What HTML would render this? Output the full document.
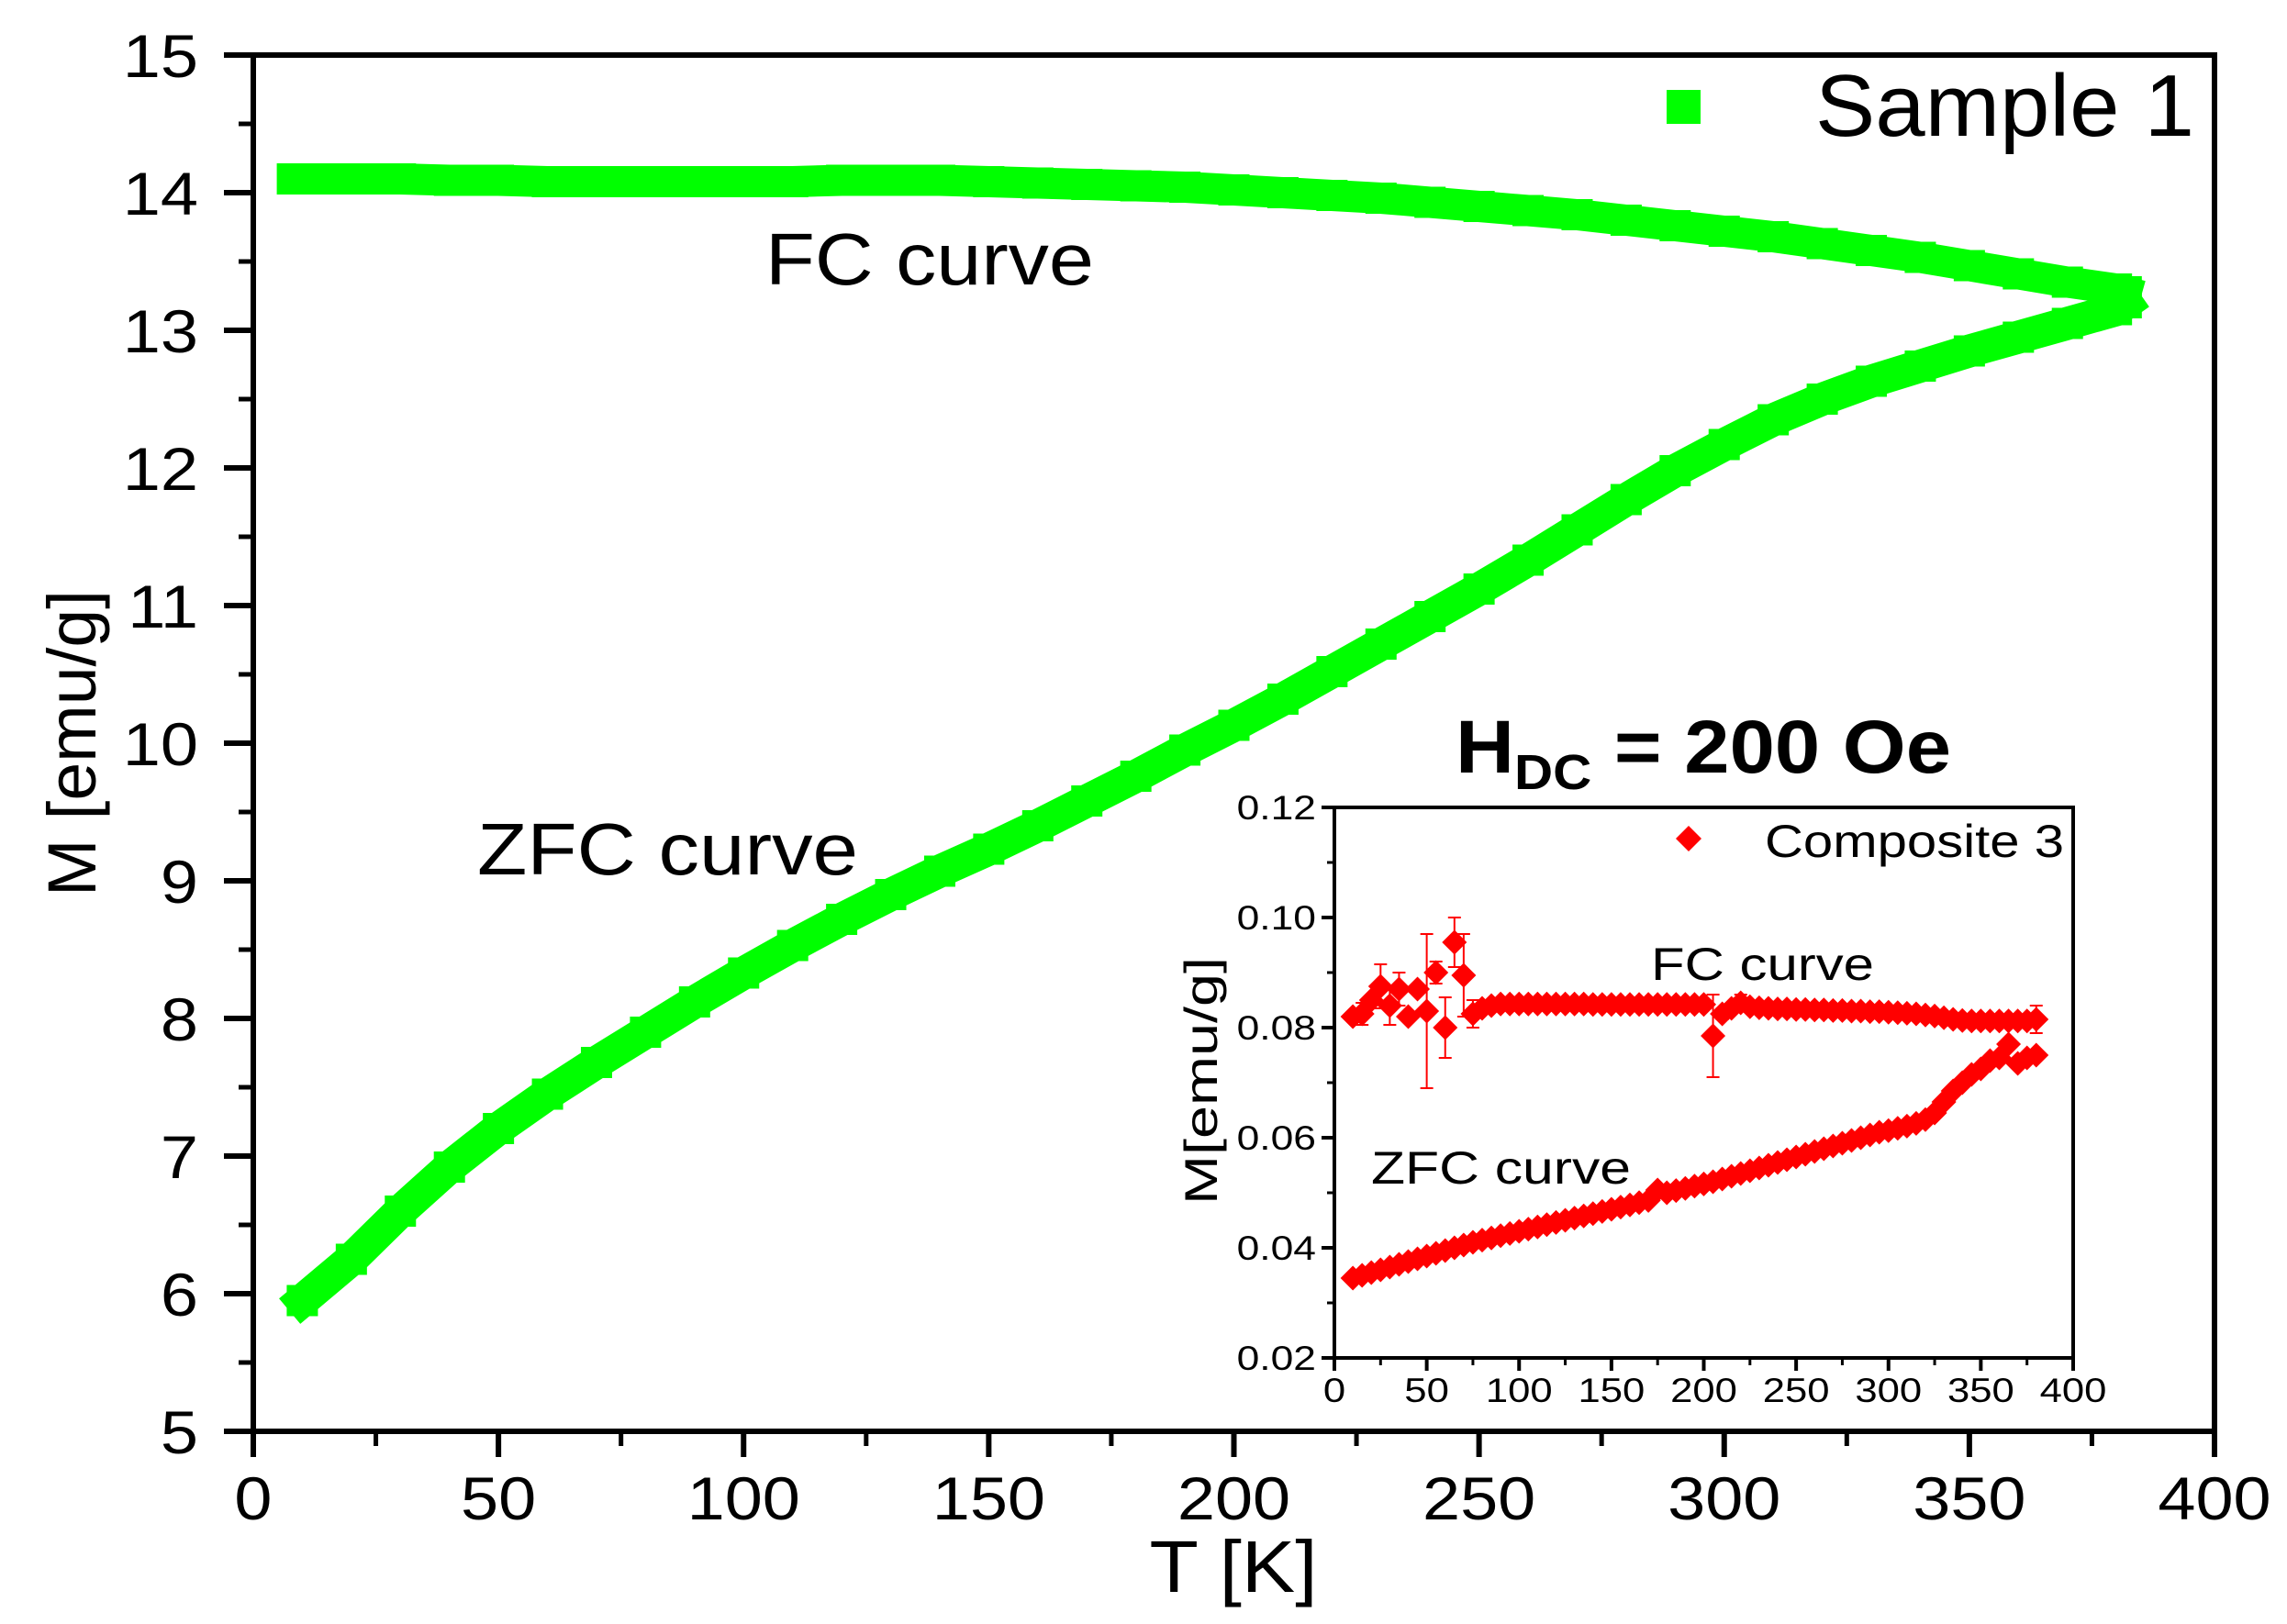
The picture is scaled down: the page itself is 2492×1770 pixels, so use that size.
<!DOCTYPE html>
<html><head><meta charset="utf-8"><style>
html,body{margin:0;padding:0;background:#fff}
svg{display:block}
text{font-family:"Liberation Sans",Arial,sans-serif;fill:#000}
</style></head><body>
<svg id="chart" width="2492" height="1770" viewBox="0 0 2492 1770" xmlns="http://www.w3.org/2000/svg">
<g id="main"></g>
<g id="inset"></g>
</svg>
<script>
// ---- main chart data ----
const mainXTicks = [0, 50, 100, 150, 200, 250, 300, 350, 400];
const mainYTicks = [5, 6, 7, 8, 9, 10, 11, 12, 13, 14, 15];
const fcT = [8, 20, 30, 40, 50, 60, 70, 80, 90, 100, 110, 120, 130, 140, 150, 160, 170, 180, 190, 200, 210, 220, 230, 240, 250, 260, 270, 280, 290, 300, 310, 320, 330, 340, 350, 360, 370, 380, 382];
const fcM = [14.1, 14.1, 14.1, 14.09, 14.09, 14.08, 14.08, 14.08, 14.08, 14.08, 14.08, 14.09, 14.09, 14.09, 14.08, 14.07, 14.06, 14.05, 14.04, 14.02, 14.0, 13.98, 13.96, 13.93, 13.9, 13.87, 13.84, 13.8, 13.76, 13.72, 13.68, 13.63, 13.58, 13.53, 13.47, 13.41, 13.35, 13.3, 13.28];
const zfcT = [10, 20, 30, 40, 50, 60, 70, 80, 90, 100, 110, 120, 130, 140, 150, 160, 170, 180, 190, 200, 210, 220, 230, 240, 250, 260, 270, 280, 290, 300, 310, 320, 330, 340, 350, 360, 370, 380, 382];
const zfcM = [5.95, 6.25, 6.6, 6.92, 7.2, 7.45, 7.68, 7.9, 8.12, 8.33, 8.53, 8.72, 8.9, 9.07, 9.23, 9.4, 9.58, 9.76, 9.95, 10.13, 10.32, 10.52, 10.72, 10.92, 11.12, 11.33, 11.55, 11.77, 11.98, 12.17, 12.35, 12.5, 12.63, 12.74, 12.85, 12.95, 13.05, 13.15, 13.2];

// ---- inset data ----
const inXTicks = [0, 50, 100, 150, 200, 250, 300, 350, 400];
const inYTicks = [0.02, 0.04, 0.06, 0.08, 0.10, 0.12];
const inYLabels = ["0.02", "0.04", "0.06", "0.08", "0.10", "0.12"];
const inFcT = [10,15,20,25,30,35,40,45,50,55,60,65,70,75,80,85,90,95,100,105,110,115,120,125,130,135,140,145,150,155,160,165,170,175,180,185,190,195,200,205,210,215,220,225,230,235,240,245,250,255,260,265,270,275,280,285,290,295,300,305,310,315,320,325,330,335,340,345,350,355,360,365,370,375,380];
const inFcM = [0.082,0.0825,0.085,0.0875,0.084,0.087,0.082,0.087,0.083,0.090,0.080,0.0955,0.0895,0.0825,0.0835,0.084,0.0843,0.0843,0.0843,0.0843,0.0843,0.0843,0.0843,0.0843,0.0843,0.0843,0.0842,0.0842,0.0842,0.0842,0.0842,0.0842,0.0842,0.0842,0.0842,0.0842,0.0842,0.0842,0.0842,0.0785,0.0825,0.0835,0.0845,0.0838,0.0836,0.0835,0.0834,0.0834,0.0833,0.0833,0.0832,0.0832,0.0831,0.0831,0.083,0.083,0.0829,0.0829,0.0828,0.0827,0.0826,0.0825,0.0823,0.0821,0.0818,0.0815,0.0813,0.0812,0.0812,0.0812,0.0812,0.0812,0.0812,0.0812,0.0815];
const inFcErr = [0,0.002,0,0.004,0.0035,0.003,0,0,0.014,0.002,0.0055,0.0045,0.0075,0.0025,0,0,0,0,0,0,0,0,0,0,0,0,0,0,0,0,0,0,0,0,0,0,0,0,0,0.0075,0.001,0,0.0015,0,0,0,0,0,0,0,0,0,0,0,0,0,0,0,0,0,0,0,0,0,0,0,0,0,0,0,0,0,0,0,0.0025];
const inZfcT = inFcT;
const inZfcM = [0.0345,0.0350,0.0355,0.0360,0.0365,0.0370,0.0375,0.0380,0.0385,0.0390,0.0395,0.0400,0.0405,0.0410,0.0414,0.0418,0.0422,0.0426,0.0430,0.0434,0.0438,0.0442,0.0446,0.0450,0.0454,0.0458,0.0462,0.0466,0.0470,0.0474,0.0478,0.0482,0.0486,0.0505,0.0500,0.0504,0.0508,0.0512,0.0516,0.0520,0.0525,0.0530,0.0535,0.0540,0.0545,0.0550,0.0555,0.0560,0.0565,0.0570,0.0575,0.0580,0.0585,0.0590,0.0595,0.0600,0.0605,0.0610,0.0613,0.0617,0.0621,0.0626,0.0633,0.0645,0.0665,0.0685,0.0700,0.0715,0.0725,0.0740,0.0745,0.0770,0.0735,0.0745,0.0750];

const NS = "http://www.w3.org/2000/svg";
function mk(parent, tag, attrs, txt) {
  const e = document.createElementNS(NS, tag);
  for (const k in attrs) e.setAttribute(k, attrs[k]);
  if (txt !== undefined) e.textContent = txt;
  parent.appendChild(e);
  return e;
}
function widen(el, factor) {
  const w = el.getComputedTextLength();
  el.setAttribute('textLength', (w * factor).toFixed(1));
  el.setAttribute('lengthAdjust', 'spacingAndGlyphs');
}

// ---- main axes ----
const M = {x0: 276, x1: 2413, y0: 1560, y1: 60, xmin: 0, xmax: 400, ymin: 5, ymax: 15};
const mx = v => M.x0 + (v - M.xmin) / (M.xmax - M.xmin) * (M.x1 - M.x0);
const my = v => M.y0 - (v - M.ymin) / (M.ymax - M.ymin) * (M.y0 - M.y1);
const main = document.getElementById('main');

function pathFrom(xs, ys, fx, fy) {
  return xs.map((t, i) => (i ? 'L' : 'M') + fx(t).toFixed(1) + ' ' + fy(ys[i]).toFixed(1)).join(' ');
}

const fcLine = mk(main, 'path', {d: pathFrom(fcT, fcM, mx, my), fill: 'none', stroke: '#00ff00', 'stroke-width': 34, 'stroke-linejoin': 'miter', 'stroke-linecap': 'square'});


const zfcLine = mk(main, 'path', {d: pathFrom(zfcT, zfcM, mx, my), fill: 'none', stroke: '#00ff00', 'stroke-width': 36, 'stroke-linejoin': 'miter', 'stroke-linecap': 'square'});


fcT.forEach((t, i) => {
  const r = mk(main, 'rect', {x: mx(t) - 17, y: my(fcM[i]) - 17, width: 34, height: 34, fill: '#00ff00'});
  
  
});
zfcT.forEach((t, i) => {
  const r = mk(main, 'rect', {x: mx(t) - 17, y: my(zfcM[i]) - 17, width: 34, height: 34, fill: '#00ff00'});
  
  
});

const frame = mk(main, 'rect', {x: M.x0, y: M.y1, width: M.x1 - M.x0, height: M.y0 - M.y1, fill: 'none', stroke: '#000', 'stroke-width': 6});



mainXTicks.forEach((v, i) => {
  const x = mx(v);
  mk(main, 'line', {x1: x, y1: M.y0, x2: x, y2: M.y0 + 28, stroke: '#000', 'stroke-width': 6});
  if (i < mainXTicks.length - 1) {
    const xm = mx(v + 25);
    mk(main, 'line', {x1: xm, y1: M.y0, x2: xm, y2: M.y0 + 16, stroke: '#000', 'stroke-width': 5});
  }
  const t = mk(main, 'text', {x: x, y: 1656, 'font-size': 66, 'text-anchor': 'middle'}, String(v));
  
  
  widen(t, 1.12);
});
mainYTicks.forEach((v, i) => {
  const y = my(v);
  mk(main, 'line', {x1: M.x0 - 32, y1: y, x2: M.x0, y2: y, stroke: '#000', 'stroke-width': 6});
  if (i < mainYTicks.length - 1) {
    const ym = my(v + 0.5);
    mk(main, 'line', {x1: M.x0 - 16, y1: ym, x2: M.x0, y2: ym, stroke: '#000', 'stroke-width': 5});
  }
  const t = mk(main, 'text', {x: 216, y: y + 24, 'font-size': 66, 'text-anchor': 'end'}, String(v));
  
  
  widen(t, 1.12);
});

// ---- inset axes ----
const I = {x0: 1454, x1: 2259, y0: 1480, y1: 880, xmin: 0, xmax: 400, ymin: 0.02, ymax: 0.12};
const ix = v => I.x0 + (v - I.xmin) / (I.xmax - I.xmin) * (I.x1 - I.x0);
const iy = v => I.y0 - (v - I.ymin) / (I.ymax - I.ymin) * (I.y0 - I.y1);
const inset = document.getElementById('inset');

function diamond(g, cx, cy, name) {
  const s = 13.5;
  const p = mk(g, 'polygon', {points: `${cx},${cy - s} ${cx + s},${cy} ${cx},${cy + s} ${cx - s},${cy}`, fill: '#ff0000'});
  
  
}
inFcT.forEach((t, i) => {
  const e = inFcErr[i];
  if (e > 0) {
    const x = ix(t), ya = iy(inFcM[i] + e), yb = iy(inFcM[i] - e);
    mk(inset, 'line', {x1: x, y1: ya, x2: x, y2: yb, stroke: '#ff0000', 'stroke-width': 2});
    mk(inset, 'line', {x1: x - 7, y1: ya, x2: x + 7, y2: ya, stroke: '#ff0000', 'stroke-width': 2});
    mk(inset, 'line', {x1: x - 7, y1: yb, x2: x + 7, y2: yb, stroke: '#ff0000', 'stroke-width': 2});
  }
});
inFcT.forEach((t, i) => diamond(inset, ix(t), iy(inFcM[i]), 'inset-fc-point'));
inZfcT.forEach((t, i) => diamond(inset, ix(t), iy(inZfcM[i]), 'inset-zfc-point'));

const iframe = mk(inset, 'rect', {x: I.x0, y: I.y1, width: I.x1 - I.x0, height: I.y0 - I.y1, fill: 'none', stroke: '#000', 'stroke-width': 4});


inXTicks.forEach((v, i) => {
  const x = ix(v);
  mk(inset, 'line', {x1: x, y1: I.y0, x2: x, y2: I.y0 + 14, stroke: '#000', 'stroke-width': 4});
  if (i < inXTicks.length - 1) {
    const xm = ix(v + 25);
    mk(inset, 'line', {x1: xm, y1: I.y0, x2: xm, y2: I.y0 + 8, stroke: '#000', 'stroke-width': 3});
  }
  const t = mk(inset, 'text', {x: x, y: 1528, 'font-size': 37, 'text-anchor': 'middle'}, String(v));
  
  
  widen(t, 1.18);
});
inYTicks.forEach((v, i) => {
  const y = iy(v);
  mk(inset, 'line', {x1: I.x0 - 14, y1: y, x2: I.x0, y2: y, stroke: '#000', 'stroke-width': 4});
  if (i < inYTicks.length - 1) {
    const ym = iy(v + 0.01);
    mk(inset, 'line', {x1: I.x0 - 8, y1: ym, x2: I.x0, y2: ym, stroke: '#000', 'stroke-width': 3});
  }
  const t = mk(inset, 'text', {x: 1434, y: y + 13, 'font-size': 37, 'text-anchor': 'end'}, inYLabels[i]);
  
  
  widen(t, 1.2);
});

// ---- labels ----
const root = document.getElementById('chart');
function lab(tag, attrs, txt) {
  return mk(root, tag, attrs, txt);
}
let e;
e = lab('text', {x: 1344, y: 1735, 'font-size': 80, 'text-anchor': 'middle', textLength: 183, lengthAdjust: 'spacingAndGlyphs'}, 'T [K]');


e = lab('text', {x: 0, y: 0, 'font-size': 74, 'text-anchor': 'middle', textLength: 334, lengthAdjust: 'spacingAndGlyphs', transform: 'translate(104,810) rotate(-90)'}, 'M [emu/g]');


e = lab('text', {x: 834, y: 310, 'font-size': 80, textLength: 358, lengthAdjust: 'spacingAndGlyphs'}, 'FC curve');


e = lab('text', {x: 520, y: 953, 'font-size': 80, textLength: 415, lengthAdjust: 'spacingAndGlyphs'}, 'ZFC curve');


e = lab('rect', {x: 1816, y: 98, width: 37, height: 37, fill: '#00ff00'});


e = lab('text', {x: 1978, y: 148, 'font-size': 96, textLength: 413, lengthAdjust: 'spacingAndGlyphs'}, 'Sample 1');


e = lab('text', {x: 1586, y: 842, 'font-size': 82, 'font-weight': 'bold'}, '');
e.innerHTML = 'H<tspan font-size="54" dy="18">DC</tspan><tspan dy="-18"> = 200 Oe</tspan>';


widen(e, 540 / e.getComputedTextLength());
e = lab('polygon', {points: '1840,900 1854,914 1840,928 1826,914', fill: '#ff0000'});


e = lab('text', {x: 1923, y: 934, 'font-size': 50, textLength: 326, lengthAdjust: 'spacingAndGlyphs'}, 'Composite 3');


e = lab('text', {x: 1799, y: 1068, 'font-size': 50, textLength: 243, lengthAdjust: 'spacingAndGlyphs'}, 'FC curve');


e = lab('text', {x: 1494, y: 1290, 'font-size': 50, textLength: 283, lengthAdjust: 'spacingAndGlyphs'}, 'ZFC curve');


e = lab('text', {x: 0, y: 0, 'font-size': 50, 'text-anchor': 'middle', textLength: 270, lengthAdjust: 'spacingAndGlyphs', transform: 'translate(1326,1178) rotate(-90)'}, 'M[emu/g]');


</script>
</body></html>
